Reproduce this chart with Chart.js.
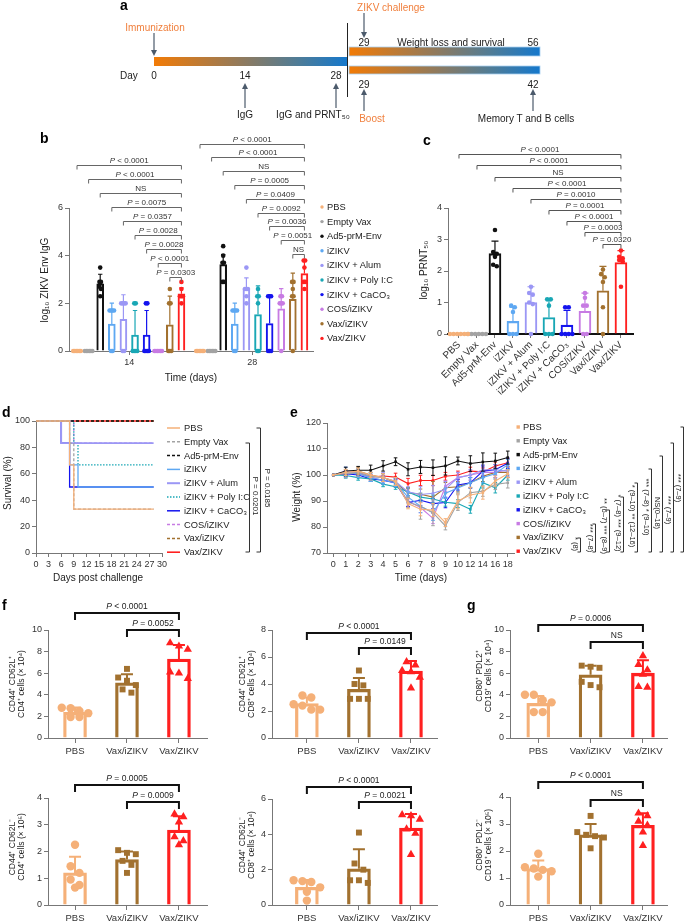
<!DOCTYPE html>
<html><head><meta charset="utf-8"><title>ZIKV vaccine figure</title>
<script src="https://cdn.jsdelivr.net/npm/chart.js@4.4.1/dist/chart.umd.min.js"></script>
<style>
html,body{margin:0;padding:0;background:#fff}
body{width:685px;height:923px;position:relative;overflow:hidden}
canvas{position:absolute}
#ov{position:absolute;left:0;top:0;pointer-events:none;z-index:5}
</style></head><body>
<svg id="ov" width="685" height="923" xmlns="http://www.w3.org/2000/svg"></svg>
<script>
// ================= DATA =================
const groups = ['PBS','Empty Vax','Ad5-prM-Env','iZIKV','iZIKV + Alum','iZIKV + Poly I:C','iZIKV + CaCO₃','COS/iZIKV','Vax/iZIKV','Vax/ZIKV'];
const groupsWeightLegend = ['PBS','Empty Vax','Ad5-prM-Env','iZIKV','iZIKV + Alum','iZIKV + Poly I:C','iZIKV + CaCO₃','COS//iZIKV','Vax/iZIKV','Vax/ZIKV'];
const groupColors = ['#f5b078','#a3a3a3','#111111','#5ea8f2','#9b97f5','#19a7b5','#1414ee','#c77be3','#a2712f','#ff2020'];

// b: log10 ZIKV Env IgG
const iggDays = ['14','28'];
const igg14Mean = [0,0,2.82,1.13,1.33,0.67,0.67,0,1.1,2.4];
const igg14SD   = [0,0,0.4,0.88,1.03,1.03,1.03,0,1.2,0.25];
const igg14Pts  = [[0,0,0,0,0,0],[0,0,0,0,0,0],[3.5,2.9,2.9,2.7,2.6,2.3],[1.7,1.7,1.7,1.7,0,0],[2.0,2.0,2.0,2.0,0,0],[2.0,2.0,0,0,0,0],[2.0,2.0,0,0,0,0],[0,0,0,0,0,0],[2.6,2.0,2.0,0,0,0],[2.9,2.6,2.3,2.3,2.3,2.0]];
const igg28Mean = [0,0,3.63,1.13,2.62,1.53,1.15,1.77,2.17,3.25];
const igg28SD   = [0,0,0.42,0.88,0.45,1.2,1.15,0.85,1.1,0.55];
const igg28Pts  = [[0,0,0,0,0,0],[0,0,0,0,0,0],[4.4,4.0,3.7,3.7,2.9,2.9],[1.7,1.7,1.7,1.7,0,0],[3.5,2.6,2.6,2.6,2.3,2.0],[2.6,2.3,2.3,2.0,0,0],[2.3,2.3,2.3,0,0,0],[2.3,2.3,2.0,2.0,2.0,0],[2.9,2.9,2.6,2.3,2.3,0],[3.8,3.8,3.5,2.9,2.9,2.6]];
const igg14PLabels = ['P < 0.0001','P < 0.0001','NS','P = 0.0075','P = 0.0357','P = 0.0028','P = 0.0028','P < 0.0001','P = 0.0303'];
const igg28PLabels = ['P < 0.0001','P < 0.0001','NS','P = 0.0005','P = 0.0409','P = 0.0092','P = 0.0036','P = 0.0051','NS'];

// c: log10 PRNT50
const prntMean = [0,0,2.55,0.4,1.0,0.52,0.28,0.72,1.37,2.27];
const prntSD   = [0,0,0.4,0.45,0.5,0.58,0.47,0.58,0.78,0.38];
const prntPts  = [[0,0,0,0,0,0],[0,0,0,0,0,0],[3.3,2.6,2.55,2.45,2.2,2.15],[0.9,0.85,0.7,0,0,0],[1.5,1.3,1.25,1.0,0.95,0],[1.1,1.1,0.9,0,0,0],[0.85,0.85,0,0,0,0],[1.3,1.15,0.9,0.9,0,0],[2.05,1.9,1.8,1.65,0.85,0],[2.65,2.45,2.4,2.35,2.3,1.5]];
const prntPLabels = ['P < 0.0001','P < 0.0001','NS','P < 0.0001','P = 0.0010','P = 0.0001','P < 0.0001','P = 0.0003','P = 0.0320'];

// d: survival (%) at the listed days (Kaplan-Meier steps)
const survDays  = [0,6,8,9,10,28];
const survPBS   = [100,100,66.7,33.3,33.3,33.3];
const survEmpty = [100,100,83.3,33.3,33.3,33.3];
const survAd5   = [100,100,100,100,100,100];
const survIZ    = [100,100,66.7,66.7,50,50];
const survAlum  = [100,83.3,83.3,83.3,83.3,83.3];
const survPoly  = [100,100,100,83.3,66.7,66.7];
const survCa    = [100,83.3,50,50,50,50];
const survCOS   = [100,100,100,83.3,83.3,83.3];
const survVaxIZ = [100,100,100,100,100,100];
const survVaxZ  = [100,100,100,100,100,100];
const survPLabels = ['P = 0.0201','P = 0.0185'];

// e: weight (%)
const weightDays = ['0','1','2','3','4','5','6','7','8','9','10','12','14','16','18'];
const weightPBS   = [100,101,101.5,100,99,97.5,89,86.8,86.5,81.7,90,92.3,93.2,97.7,100.5];
const weightEmpty = [100,100.5,101,99.5,99,97.5,89.5,88,85.5,80.4,89.4,93.2,93.8,96.4,97];
const weightAd5   = [100,101.5,101.8,101.8,103.5,105.1,102.2,103.1,102.8,103.5,105.4,104.4,105,105.4,106.7];
const weightIZ    = [100,101,100.5,99,98,97,91.5,88,85.5,93,95,97,99,100.5,104];
const weightAlum  = [100,101.5,101,99.5,99,97.5,93.5,92.5,93,94.5,99,100,102,102,101.5];
const weightPoly  = [100,99.8,99,98.5,96.5,95.5,93.5,91.5,90.8,89.5,89,86.8,97,95.1,100];
const weightCa    = [100,100.5,100,98.5,98,97,89.4,90.3,89,89.4,96.2,97,101.5,102,104.5];
const weightCOS   = [100,100.5,100.5,99,98,96.8,90,87.5,83.3,95.7,99,100,101,101,102];
const weightVaxIZ = [100,101,101.5,100,99,97,93.2,92.6,91.5,95.1,95.5,97,99.5,101,101];
const weightVaxZ  = [100,100.5,100.8,99.2,99.6,99.2,96.7,97.9,97.9,99.5,100,101.5,101.2,103.5,104.7];
const sdPBS   = [0,1.2,1.2,1,1.5,1.5,2,2.5,2.5,1.5,3,3,2.5,2,1.5];
const sdEmpty = [0,1.5,1.5,1.5,1.5,1.5,2,5,5,1.5,3,2,2,2,2];
const sdAd5   = [0,1.5,1.5,2,2,1.5,2.5,2.5,3,3.5,1.5,3,3.5,3,2.5];
const sdIZ    = [0,2,1.5,1.5,1.5,1.5,2,2.5,3,2,2,2,2,2,2];
const sdAlum  = [0,1.5,1.5,1.5,2,1.5,2,3,3,3,2,2,2,2,2];
const sdPoly  = [0,1,1,1,1,1,1.5,1.5,1.5,1.5,1.5,1.5,2,2,2];
const sdCa    = [0,1,1,1,1.5,1.5,1.5,2,2,2,2,2,2,2,2];
const sdCOS   = [0,1,1,1,1.5,1.5,2,2,2,2,2,2,2,2,2];
const sdVaxIZ = [0,1,1.5,1,1.5,1.5,2,2,6,2,2,2,2,2,2];
const sdVaxZ  = [0,1,1,1,1,1.5,2,2,2,1.5,1.5,1.5,1.5,1.5,1.5];
const weightSigLabels = ['* (8)','*** (7–8)','** (6–7) *** (8–9)','* (7–8) *** (9–12)','* (9–10) ** (12–16)','*** (7–8) * (9–10)','NS(0–18)','*** (7–9)','*** (7–9)'];

// f, g: memory cells
const cellGroups = ['PBS','Vax/iZIKV','Vax/ZIKV'];
const cellColors = ['#f5b078','#a2712f','#ff2020'];
const cd4CMMean = [2.38,5.1,7.3];   const cd4CMSD = [0.45,0.8,1.3];
const cd4CMPts  = [[2.8,2.75,2.5,2.3,1.95,1.95],[6.4,5.6,5.3,4.9,4.5,4.2],[8.8,8.5,8.2,6.1,6.0,5.5]];
const cd4CMP    = ['P < 0.0001','P = 0.0052'];
const cd8CMMean = [2.55,3.6,4.95];  const cd8CMSD = [0.45,0.85,0.75];
const cd8CMPts  = [[3.15,3.0,2.5,2.4,2.1,2.1],[5.0,4.0,3.9,2.9,2.9,2.9],[5.65,5.4,5.0,4.9,4.5,3.7]];
const cd8CMP    = ['P < 0.0001','P = 0.0149'];
const cd4EMMean = [1.2,1.7,2.8];    const cd4EMSD = [0.6,0.3,0.52];
const cd4EMPts  = [[2.25,1.45,1.2,0.95,0.75,0.65],[2.05,1.95,1.9,1.65,1.5,1.2],[3.4,3.3,3.1,2.55,2.4,2.25]];
const cd4EMP    = ['P = 0.0005','P = 0.0009'];
const cd8EMMean = [1.0,2.05,4.35];  const cd8EMSD = [0.42,1.1,0.8];
const cd8EMPts  = [[1.4,1.35,1.3,1.0,0.75,0.25],[4.1,2.35,2.0,1.4,1.4,1.25],[5.1,5.05,4.85,4.3,4.05,2.85]];
const cd8EMP    = ['P < 0.0001','P = 0.0021'];
const bPos4Mean = [3.2,5.85,6.0];   const bPos4SD = [0.7,0.85,1.2];
const bPos4Pts  = [[4.0,4.0,3.5,3.3,2.4,2.4],[6.7,6.6,6.5,5.2,4.9,4.7],[7.6,6.8,6.3,5.9,4.75,4.7]];
const bPos4P    = ['P = 0.0006','NS'];
const bNeg5Mean = [1.35,2.6,2.95];  const bNeg5SD = [0.3,0.4,0.45];
const bNeg5Pts  = [[1.9,1.4,1.35,1.3,1.25,1.05],[3.3,2.7,2.6,2.55,2.5,2.1],[3.4,3.3,3.1,2.95,2.7,2.2]];
const bNeg5P    = ['P < 0.0001','NS'];

// ================= SETUP =================
const FONT = "'Liberation Sans', Arial, Helvetica, sans-serif";
Chart.defaults.font.family = FONT;
Chart.defaults.font.size = 9;
Chart.defaults.color = '#333';
Chart.defaults.animation = false;
Chart.defaults.responsive = false;
Chart.defaults.maintainAspectRatio = false;
Chart.defaults.events = [];
Chart.defaults.plugins.legend.display = false;
Chart.defaults.plugins.tooltip.enabled = false;

function canvasAt(L,T,W,H){
  const c=document.createElement('canvas'); c.width=W; c.height=H;
  Object.assign(c.style,{left:L+'px',top:T+'px',width:W+'px',height:H+'px'});
  document.body.appendChild(c); return c;
}
function frame(box,plot){
  return {padding:{left:0,top:plot.t-box.T,right:box.L+box.W-plot.r,bottom:0}, yW:plot.l-box.L, xH:box.T+box.H-plot.b};
}
// simple tie-spreading for dot plots (presentation only)
function swarm(vals, step, thr){
  const idx = vals.map((v,i)=>i).sort((a,b)=>vals[b]-vals[a]);
  const off = new Array(vals.length).fill(0);
  let i=0;
  while(i<idx.length){
    let j=i; while(j+1<idx.length && vals[idx[i]]-vals[idx[j+1]]<=thr) j++;
    const k=j-i+1; for(let m=0;m<k;m++) off[idx[i+m]]=(m-(k-1)/2)*step;
    i=j+1;
  }
  return off;
}
function pText(ctx,str,cx,y,size){
  const it=`italic ${size}px ${FONT}`, nm=`${size}px ${FONT}`;
  const parts = str.startsWith('P ') ? [['P',it],[str.slice(1),nm]] : [[str,nm]];
  let w=0; parts.forEach(p=>{ctx.font=p[1]; w+=ctx.measureText(p[0]).width;});
  let x=cx-w/2; ctx.textAlign='left'; ctx.textBaseline='alphabetic';
  parts.forEach(p=>{ctx.font=p[1]; ctx.fillText(p[0],x,y); x+=ctx.measureText(p[0]).width;});
}
const annotPlugin = {
  id:'annot',
  afterDatasetDraw(chart,args){
    const o=chart.options.plugins.annot; if(!o||!o.err) return;
    const ctx=chart.ctx, xs=chart.scales.x, ys=chart.scales.y;
    ctx.save();
    o.err.filter(e=>e.ds===args.index && e.sd).forEach(e=>{
      const x=xs.getPixelForValue(e.x), y0=ys.getPixelForValue(e.y), y1=ys.getPixelForValue(e.y+e.sd);
      const y2 = o.both ? ys.getPixelForValue(e.y-e.sd) : y0;
      ctx.strokeStyle=e.color; ctx.lineWidth=o.errW;
      ctx.beginPath(); ctx.moveTo(x,y2); ctx.lineTo(x,y1);
      ctx.moveTo(x-o.cap,y1); ctx.lineTo(x+o.cap,y1);
      if(o.both){ctx.moveTo(x-o.cap,y2); ctx.lineTo(x+o.cap,y2);}
      ctx.stroke();
    });
    ctx.restore();
  },
  afterDraw(chart){
    const o=chart.options.plugins.annot; if(!o||!o.brackets) return;
    const ctx=chart.ctx, xs=chart.scales.x, ys=chart.scales.y, s=o.bStyle;
    ctx.save(); ctx.fillStyle=s.text||'#222';
    o.brackets.forEach(b=>{
      const x1=xs.getPixelForValue(b.x1), x2=xs.getPixelForValue(b.x2);
      const y=Math.round(ys.getPixelForValue(b.level))+(s.lw%2?0.5:0);
      ctx.strokeStyle=s.color; ctx.lineWidth=s.lw;
      ctx.beginPath(); ctx.moveTo(x1,y+s.tick); ctx.lineTo(x1,y); ctx.lineTo(x2,y); ctx.lineTo(x2,y+s.tick); ctx.stroke();
      pText(ctx,b.text,(x1+x2)/2,y-s.gap,s.size);
    });
    ctx.restore();
  }
};
Chart.register(annotPlugin);

function yAxis(min,max,step,fitW,extra){
  return Object.assign({type:'linear',min,max,
    afterFit:s=>{s.width=fitW;},
    ticks:{stepSize:step,padding:2,color:'#333',font:{size:9}},
    grid:{drawOnChartArea:false,drawTicks:true,tickLength:4,color:'#777',lineWidth:1},
    border:{display:true,color:'#777',width:1}},extra||{});
}
function xLinear(min,max,fitH,tickVals,labels,extra){
  return Object.assign({type:'linear',min,max,offset:false,
    afterFit:s=>{s.height=fitH;},
    afterBuildTicks:s=>{s.ticks=tickVals.map(v=>({value:v}));},
    ticks:{autoSkip:false,maxRotation:0,minRotation:0,padding:2,color:'#333',font:{size:9},callback:(v,i)=>labels[i]},
    grid:{offset:false,drawOnChartArea:false,drawTicks:true,tickLength:4,color:'#777'},
    border:{display:true,color:'#777',width:1}},extra||{});
}

// ================= PANEL b =================
(function(){
  const box={L:40,T:128,W:280,H:262}, plot={l:69,r:313,t:208,b:351};
  const f=frame(box,plot), OFF=10.6;
  const bars=[], err=[], dotSets=[], bc=[];
  groups.forEach((g,i)=>{
    const dots=[];
    [[igg14Mean,igg14SD,igg14Pts,0],[igg28Mean,igg28SD,igg28Pts,OFF]].forEach(([m,s,p,off])=>{
      const x=i+off;
      bars.push({x,y:m[i]}); bc.push(groupColors[i]);
      err.push({ds:0,x,y:m[i],sd:s[i],color:groupColors[i]});
      const o=swarm(p[i],0.13,0.12);
      p[i].forEach((v,k)=>dots.push({x:x+o[k],y:v}));
    });
    dotSets.push({type:'scatter',data:dots,pointRadius:2.3,pointBackgroundColor:groupColors[i],pointBorderColor:groupColors[i],pointBorderWidth:0,order:0,clip:false});
  });
  const brackets=[];
  igg14PLabels.forEach((t,k)=>brackets.push({x1:k,x2:9,level:7.82-0.587*k,text:t}));
  igg28PLabels.forEach((t,k)=>brackets.push({x1:OFF+k,x2:OFF+9,level:8.70-0.578*k,text:t}));
  new Chart(canvasAt(box.L,box.T,box.W,box.H),{type:'bar',
    data:{datasets:[{type:'bar',data:bars,borderColor:bc,backgroundColor:'rgba(255,255,255,0)',borderWidth:1.4,barThickness:7,order:2},...dotSets]},
    options:{layout:{padding:f.padding},
      scales:{x:xLinear(-0.69,20.34,f.xH,[4.5,15.1],iggDays),y:yAxis(0,6,2,f.yW)},
      plugins:{annot:{err,errW:1.2,cap:2.2,both:false,brackets,bStyle:{color:'#666',lw:1,tick:4,gap:2.5,size:8,text:'#333'}}}}});
})();

// ================= PANEL c =================
(function(){
  const box={L:425,T:140,W:260,H:262}, plot={l:448,r:633,t:208,b:334};
  const f=frame(box,plot);
  const bars=[], err=[], dotSets=[];
  groups.forEach((g,i)=>{
    bars.push({x:i,y:prntMean[i]}); err.push({ds:0,x:i,y:prntMean[i],sd:prntSD[i],color:groupColors[i]});
    const o=swarm(prntPts[i],0.2,0.1);
    dotSets.push({type:'scatter',data:prntPts[i].map((v,k)=>({x:i+o[k],y:v})),pointRadius:2.3,pointBackgroundColor:groupColors[i],pointBorderColor:groupColors[i],pointBorderWidth:0,order:0,clip:false});
  });
  const brackets=prntPLabels.map((t,k)=>({x1:k,x2:9,level:5.71-0.355*k,text:t}));
  new Chart(canvasAt(box.L,box.T,box.W,box.H),{type:'bar',
    data:{datasets:[{type:'bar',data:bars,borderColor:groupColors,backgroundColor:'rgba(255,255,255,0)',borderWidth:1.4,barThickness:12,order:2},...dotSets]},
    options:{layout:{padding:f.padding},
      scales:{x:xLinear(-0.61,9.67,f.xH,[0,1,2,3,4,5,6,7,8,9],groups,{
          ticks:{autoSkip:false,maxRotation:45,minRotation:45,padding:1,color:'#333',font:{size:10},callback:(v,i)=>groups[i]},
          border:{display:true,color:'#111',width:2,dash:[1.6,3.2]}}),
        y:yAxis(0,4,1,f.yW)},
      plugins:{annot:{err,errW:1.2,cap:3.5,both:false,brackets,bStyle:{color:'#555',lw:1,tick:4,gap:2.5,size:8,text:'#333'}}}}});
})();

// ================= PANEL d =================
const survSeries=[survPBS,survEmpty,survAd5,survIZ,survAlum,survPoly,survCa,survCOS,survVaxIZ,survVaxZ];
const survDash=[[],[3,2],[3,2],[],[],[1.5,1.5],[],[3,2],[3,2],[]];
const survWidth=[1.3,1.3,1.3,1.3,1.8,1.3,1.3,1.3,1.3,1.4];
(function(){
  const box={L:0,T:410,W:170,H:167}, plot={l:36,r:162,t:421,b:553};
  const f=frame(box,plot);
  const ds=survSeries.map((s,i)=>({data:survDays.map((d,k)=>({x:d,y:s[k]})),borderColor:groupColors[i],borderDash:survDash[i],borderWidth:survWidth[i],stepped:true,pointRadius:0,fill:false,clip:false}));
  new Chart(canvasAt(box.L,box.T,box.W,box.H),{type:'line',data:{datasets:ds},
    options:{layout:{padding:f.padding},
      scales:{x:{type:'linear',min:0,max:30,afterFit:s=>{s.height=f.xH;},
          ticks:{stepSize:3,autoSkip:false,maxRotation:0,padding:2,color:'#333',font:{size:9}},
          grid:{drawOnChartArea:false,tickLength:4,color:'#777'},border:{display:true,color:'#777'}},
        y:yAxis(0,100,20,f.yW)}}});
})();

// ================= PANEL e =================
const weightSeries=[weightPBS,weightEmpty,weightAd5,weightIZ,weightAlum,weightPoly,weightCa,weightCOS,weightVaxIZ,weightVaxZ];
const weightSD=[sdPBS,sdEmpty,sdAd5,sdIZ,sdAlum,sdPoly,sdCa,sdCOS,sdVaxIZ,sdVaxZ];
(function(){
  const box={L:296,T:410,W:226,H:167}, plot={l:327,r:514,t:423,b:553};
  const f=frame(box,plot);
  const ds=weightSeries.map((s,i)=>({data:s,borderColor:groupColors[i],backgroundColor:groupColors[i],borderWidth:1.1,pointStyle:'rect',pointRadius:1.8,pointBorderWidth:0,tension:0,fill:false,clip:false}));
  const err=[]; weightSeries.forEach((s,i)=>s.forEach((v,k)=>err.push({ds:i,x:k,y:v,sd:weightSD[i][k],color:groupColors[i]})));
  new Chart(canvasAt(box.L,box.T,box.W,box.H),{type:'line',data:{labels:weightDays,datasets:ds},
    options:{layout:{padding:f.padding},
      scales:{x:{type:'category',offset:true,afterFit:s=>{s.height=f.xH;},
          ticks:{autoSkip:false,maxRotation:0,padding:2,color:'#333',font:{size:9}},
          grid:{offset:false,drawOnChartArea:false,tickLength:4,color:'#777'},border:{display:true,color:'#777'}},
        y:yAxis(70,120,10,f.yW)},
      plugins:{annot:{err,errW:1,cap:1.8,both:true}}}});
})();

// ================= PANELS f, g =================
function cellChart(box,plot,yMax,yStep,xMin,xMax,means,sds,pts,pLabels,levels){
  const f=frame(box,plot);
  const pxPerUnit=(plot.b-plot.t)/yMax;
  const styles=['circle','rect','triangle'], radii=[4.2,4.2,4.8];
  const dotSets=pts.map((p,i)=>{const o=swarm(p,0.17,8/pxPerUnit);
    return {type:'scatter',data:p.map((v,k)=>({x:i+o[k],y:v})),pointStyle:styles[i],pointRadius:radii[i],pointBackgroundColor:cellColors[i],pointBorderColor:cellColors[i],pointBorderWidth:0,order:0,clip:false};});
  const err=means.map((m,i)=>({ds:0,x:i,y:m,sd:sds[i],color:cellColors[i]}));
  const brackets=[{x1:0,x2:2,level:levels[0],text:pLabels[0]},{x1:1,x2:2,level:levels[1],text:pLabels[1]}];
  new Chart(canvasAt(box.L,box.T,box.W,box.H),{type:'bar',
    data:{datasets:[{type:'bar',data:means.map((m,i)=>({x:i,y:m})),borderColor:cellColors,backgroundColor:'rgba(255,255,255,0)',borderWidth:2.6,barThickness:23,order:2},...dotSets]},
    options:{layout:{padding:f.padding},
      scales:{x:xLinear(xMin,xMax,f.xH,[0,1,2],cellGroups,{ticks:{autoSkip:false,maxRotation:0,padding:3,color:'#333',font:{size:9.5},callback:(v,i)=>cellGroups[i]},grid:{offset:false,drawOnChartArea:false,tickLength:5,color:'#777'}}),
        y:yAxis(0,yMax,yStep,f.yW)},
      plugins:{annot:{err,errW:2,cap:6,both:false,brackets,bStyle:{color:'#111',lw:2,tick:7,gap:4,size:8.5,text:'#222'}}}}});
}
cellChart({L:26,T:598,W:186,H:167},{l:48,r:207,t:630,b:738},10,2,-0.52,2.54,cd4CMMean,cd4CMSD,cd4CMPts,cd4CMP,[11.57,10.0]);
cellChart({L:250,T:598,W:192,H:167},{l:272,r:437,t:630,b:738},8,2,-0.67,2.5,cd8CMMean,cd8CMSD,cd8CMPts,cd8CMP,[7.78,6.67]);
cellChart({L:490,T:598,W:182,H:167},{l:510,r:667,t:630,b:738},10,2,-0.54,2.46,bPos4Mean,bPos4SD,bPos4Pts,bPos4P,[10.46,8.89]);
cellChart({L:26,T:766,W:186,H:157},{l:48,r:207,t:798,b:905},4,1,-0.52,2.54,cd4EMMean,cd4EMSD,cd4EMPts,cd4EMP,[4.49,3.85]);
cellChart({L:250,T:766,W:192,H:157},{l:272,r:437,t:799,b:905},6,2,-0.67,2.5,cd8EMMean,cd8EMSD,cd8EMPts,cd8EMP,[6.68,5.83]);
cellChart({L:490,T:766,W:182,H:157},{l:510,r:667,t:797,b:905},4,1,-0.54,2.46,bNeg5Mean,bNeg5SD,bNeg5Pts,bNeg5P,[4.56,3.89]);

// ================= SVG overlay: schematic, titles, legends =================
const svg=document.getElementById('ov'), NS='http://www.w3.org/2000/svg';
function el(tag,attrs,parent){const e=document.createElementNS(NS,tag); for(const k in attrs) e.setAttribute(k,attrs[k]); (parent||svg).appendChild(e); return e;}
function text(x,y,str,attrs){const t=el('text',Object.assign({x,y,'font-family':FONT,'font-size':10,fill:'#222','dominant-baseline':'central'},attrs||{})); t.textContent=str; return t;}
function vtext(x,y,str,rot,attrs){return text(0,0,str,Object.assign({transform:`translate(${x},${y}) rotate(${rot})`,'text-anchor':'middle'},attrs||{}));}
function bold(x,y,s){text(x,y,s,{'font-size':14,'font-weight':'bold',fill:'#000'});}

// panel a schematic
const defs=el('defs',{});
const lg=el('linearGradient',{id:'grad',x1:'0',x2:'1',y1:'0',y2:'0'},defs);
[['0','#f27b06'],['0.45','#917a5c'],['0.75','#4e7c98'],['1','#1578cc']].forEach(s=>el('stop',{offset:s[0],'stop-color':s[1]},lg));
const mk=el('marker',{id:'ah',markerWidth:'6',markerHeight:'6',refX:'3',refY:'3',orient:'auto',markerUnits:'userSpaceOnUse'},defs);
el('path',{d:'M0,0 L6,3 L0,6 Z',fill:'#4b5a6b'},mk);
function arrow(x,y1,y2){el('line',{x1:x,y1:y1,x2:x,y2:y2,stroke:'#4b5a6b','stroke-width':1.2,'marker-end':'url(#ah)'});}
el('rect',{x:154,y:57,width:193,height:9,fill:'url(#grad)'});
el('rect',{x:349,y:47,width:191,height:9,fill:'url(#grad)',stroke:'#a8d0f0','stroke-width':0.8});
el('rect',{x:349,y:66,width:191,height:8,fill:'url(#grad)',stroke:'#a8d0f0','stroke-width':0.8});
el('line',{x1:347.5,y1:23,x2:347.5,y2:97,stroke:'#222','stroke-width':1});
arrow(154,33,53); arrow(364,13,35); arrow(245,108,86); arrow(336,108,86); arrow(364,111,92); arrow(533,111,92);
const ORANGE='#f07f3c';
text(155,27,'Immunization',{'text-anchor':'middle',fill:ORANGE});
text(391,7,'ZIKV challenge',{'text-anchor':'middle',fill:ORANGE});
text(120,75,'Day');
text(154,75,'0',{'text-anchor':'middle'}); text(245,75,'14',{'text-anchor':'middle'}); text(336,75,'28',{'text-anchor':'middle'});
text(364,42,'29',{'text-anchor':'middle'}); text(451,42,'Weight loss and survival',{'text-anchor':'middle'}); text(533,42,'56',{'text-anchor':'middle'});
text(364,84,'29',{'text-anchor':'middle'}); text(533,84,'42',{'text-anchor':'middle'});
text(245,114,'IgG',{'text-anchor':'middle'});
text(313,114,'IgG and PRNT₅₀',{'text-anchor':'middle'});
text(372,118,'Boost',{'text-anchor':'middle',fill:ORANGE});
text(526,118,'Memory T and B cells',{'text-anchor':'middle'});

// panel letters
bold(120,5,'a'); bold(40,138,'b'); bold(423,140,'c'); bold(2,412,'d'); bold(290,412,'e'); bold(2,605,'f'); bold(467,605,'g');

// axis titles
vtext(44,280,'log₁₀ ZIKV Env IgG',-90);
text(191,377,'Time (days)',{'text-anchor':'middle'});
vtext(423,270,'log₁₀ PRNT₅₀',-90);
vtext(7,483,'Survival (%)',-90);
text(98,577,'Days post challenge',{'text-anchor':'middle'});
vtext(296,497,'Weight (%)',-90);
text(421,577,'Time (days)',{'text-anchor':'middle'});
function twoLine(cx,cy,l1,l2){vtext(cx-4.5,cy,l1,-90,{'font-size':8.5}); vtext(cx+4.5,cy,l2,-90,{'font-size':8.5});}
twoLine(16,684,'CD44⁺ CD62L⁺','CD4⁺ cells (× 10⁴)');
twoLine(246,684,'CD44⁺ CD62L⁺','CD8⁺ cells (× 10⁴)');
twoLine(483,676,'CD80⁺ PDL2⁺','CD19⁺ cells (× 10⁴)');
twoLine(16,847,'CD44⁺ CD62L⁻','CD4⁺ cells (× 10⁵)');
twoLine(246,845,'CD44⁺ CD62L⁻','CD8⁺ cells (× 10⁴)');
twoLine(483,845,'CD80⁺ PDL2⁻','CD19⁺ cells (× 10⁵)');

const LEG=9.3;
// legend b
groups.forEach((g,i)=>{const y=207+14.6*i; el('circle',{cx:322,cy:y,r:1.7,fill:groupColors[i]}); text(327,y,g,{'font-size':LEG});});
// legend d
groups.forEach((g,i)=>{const y=428+13.8*i; el('line',{x1:167,x2:180,y1:y,y2:y,stroke:groupColors[i],'stroke-width':survWidth[i]+0.2,'stroke-dasharray':survDash[i].join(',')||'none'}); text(184,y,g,{'font-size':LEG});});
// brackets d
function vBracket(x,y1,y2,tick){el('path',{d:`M${x-tick},${y1} H${x} V${y2} H${x-tick}`,fill:'none',stroke:'#333','stroke-width':1});}
vBracket(249.5,443,552,4); vBracket(260.5,428,552,4);
vtext(255,496,survPLabels[0],90,{'font-size':8});
vtext(267,488,survPLabels[1],90,{'font-size':8});
// legend e
groupsWeightLegend.forEach((g,i)=>{const y=427+13.8*i; el('rect',{x:516.5,y:y-1.7,width:3.4,height:3.4,fill:groupColors[i]}); text(523,y,g,{'font-size':LEG});});
// brackets e
const eLineX=[580.5,595.5,609.5,623.5,637.5,651.5,662.5,673.5,683.5];
const eTop=[538,524,510,497,483,469,456,443,427];
const eTextY=[544,538,526,523,516,507,513,510,488];
weightSigLabels.forEach((t,k)=>{vBracket(eLineX[k],eTop[k],552,3); vtext(eLineX[k]-5,eTextY[k],t,90,{'font-size':7.5});});
</script></body></html>
